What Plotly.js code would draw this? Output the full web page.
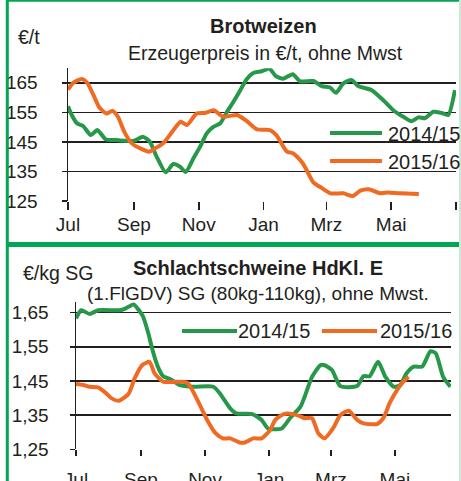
<!DOCTYPE html>
<html><head><meta charset="utf-8">
<script src="https://cdn.plot.ly/plotly-3.0.1.min.js"></script>
<style>html,body{margin:0;padding:0;background:#fff;}#c{width:461px;height:481px;}</style>
</head><body><div id="c"></div>
<script>
// ---- data (x = days since 1 July) ----
var monthTickDays = [0, 62, 123, 184, 243, 304, 365];
var monthTickText = ['Jul', 'Sep', 'Nov', 'Jan', 'Mrz', 'Mai', ''];
var seriesNames = ['2014/15', '2015/16'];

// Brotweizen (€/t)
var wheat1415Days = [0,3.5,8.7,14.4,21.4,27.6,35.7,45.8,61.4,70.8,77.1,83.4,91.9,99.1,105.4,110.7,117.9,124.2,130.5,136.7,143,149.3,155.5,161.8,168.1,174.3,182.2,189.4,195.7,202.5,211.4,218.3,230.8,238.7,246.5,252.1,259,266.9,273.1,285.7,296.6,306,315.4,323.3,329.5,335.8,343.6,351.5,357.7,364];
var wheat1415 = [157.1,154.1,151.2,150.3,147.3,149,145.8,145.6,145.3,146.7,145,140,134.7,137.5,136.6,134.8,139.4,143.3,147.9,150.1,151.2,155,158.5,162.3,166.2,168.3,168.9,169.8,167.2,166.4,167.9,165.5,165.6,163.9,163.4,161.6,164.8,165.9,163.9,162.5,159.1,155.7,153.5,152,153.3,153,155.2,154.8,154.1,162.5];
var wheat1516Days = [0,5,13,18,24,29,36,42,47,53,60,68,76,82,90,98,106,112,121,129,137,146,159,168,178,190,196,206,212,221,231,237,247,259,268,275,283,294,301,312,330];
var wheat1516 = [162.7,165,166.3,165,160.8,156.9,154.6,155.5,153.5,148.4,144.5,142.8,141.7,142.8,144.7,148.4,151.8,150.7,154.6,154.8,155.7,153.5,154.1,152.1,149.2,149,147.3,141.7,141.1,137.7,131.2,129.8,127.6,127.6,126.7,128.5,129,127.6,127.9,127.6,127.4];
var wheatTicks = [125, 135, 145, 155, 165];

// Schlachtschweine (€/kg SG)
var pig1415Days = [0,5,13,21,42,47,55,60,64,69,73,78,83,90,99,112,131,137,147,153,168,177,183,196,204,214,218,225,233,237,244,252,268,274,280,288,295,303,309,315,322,330,338,343,350,357];
var pig1415 = [1.633,1.657,1.646,1.657,1.657,1.662,1.674,1.657,1.638,1.589,1.54,1.492,1.464,1.455,1.438,1.433,1.433,1.414,1.37,1.355,1.353,1.336,1.311,1.311,1.341,1.375,1.404,1.462,1.496,1.496,1.482,1.435,1.435,1.464,1.464,1.506,1.462,1.433,1.438,1.472,1.492,1.492,1.537,1.531,1.462,1.433];
var pig1516Days = [0,7,13,21,28,34,41,50,56,63,70,75,83,101,106,111,118,125,133,140,147,156,161,169,177,185,190,198,207,215,218,225,231,237,245,252,260,268,274,287,293,299,306,312,317];
var pig1516 = [1.441,1.438,1.433,1.431,1.416,1.399,1.392,1.412,1.458,1.496,1.506,1.472,1.448,1.448,1.445,1.423,1.38,1.336,1.297,1.282,1.282,1.27,1.27,1.282,1.282,1.306,1.336,1.353,1.353,1.345,1.341,1.341,1.297,1.282,1.311,1.35,1.363,1.336,1.326,1.324,1.341,1.385,1.423,1.448,1.462];
var pigTicks = [1.25, 1.35, 1.45, 1.55, 1.65];

// ---- styling ----
var W = 461, H = 481;
var GREEN = '#27984a', ORANGE = '#ef6a23', FRAME = '#00a651', INK = '#231f20';
var FONT = 'Liberation Sans, Arial, sans-serif';
function px(x) { return x / W; }
function py(y) { return 1 - y / H; }

function trace(x, y, color, xa, ya, name) {
  return {x: x, y: y, type: 'scatter', mode: 'lines', name: name, xaxis: xa, yaxis: ya,
    line: {color: color, width: 4, shape: 'spline', smoothing: 0.6},
    cliponaxis: false, showlegend: false, hoverinfo: 'skip'};
}

var data = [
  trace(wheat1415Days, wheat1415, GREEN, 'x', 'y', seriesNames[0]),
  trace(wheat1516Days, wheat1516, ORANGE, 'x', 'y', seriesNames[1]),
  trace(pig1415Days, pig1415, GREEN, 'x2', 'y2', seriesNames[0]),
  trace(pig1516Days, pig1516, ORANGE, 'x2', 'y2', seriesNames[1])
];

function xAxis(domain, range, ticklen, standoff, anchor) {
  return {domain: domain, range: range, anchor: anchor, tickmode: 'array',
    tickvals: monthTickDays, ticktext: monthTickText, ticks: 'outside', ticklen: ticklen,
    tickwidth: 1.5, tickcolor: INK, showline: false, showgrid: false, zeroline: false,
    ticklabelstandoff: standoff, tickfont: {family: FONT, size: 19, color: INK}, fixedrange: true};
}
function yAxis(domain, range, ticks, fmt, standoff, anchor) {
  return {domain: domain, range: range, anchor: anchor, tickmode: 'array', tickvals: ticks,
    tickformat: fmt, ticks: 'outside', ticklen: 5, tickwidth: 1.5, tickcolor: INK,
    showline: true, linecolor: INK, linewidth: 1.5, showgrid: true, gridcolor: INK, gridwidth: 1.5,
    zeroline: false, ticklabelstandoff: standoff, tickfont: {family: FONT, size: 19, color: INK}, fixedrange: true};
}

function ann(text, x, y, size, bold, xanchor) {
  return {text: bold ? '<b>' + text + '</b>' : text, xref: 'paper', yref: 'paper', x: px(x), y: py(y),
    xanchor: xanchor || 'center', yanchor: 'middle', showarrow: false,
    font: {family: FONT, size: size, color: INK}};
}
function legLine(x0, x1, y, color) {
  return {type: 'line', xref: 'paper', yref: 'paper', x0: px(x0), x1: px(x1), y0: py(y), y1: py(y),
    line: {color: color, width: 4}};
}

var layout = {
  width: W, height: H, margin: {l: 0, r: 0, t: 0, b: 0},
  paper_bgcolor: '#fff', plot_bgcolor: 'rgba(0,0,0,0)', separators: ',.',
  showlegend: false, font: {family: FONT, color: INK},
  xaxis: xAxis([px(68), px(456)], [0, 365], 8, -2, 'y'),
  yaxis: yAxis([py(201), py(68.3)], [125, 169.9], wheatTicks, 'd', 20, 'x'),
  xaxis2: xAxis([px(76), px(451)], [0, 357.5], 6, 7, 'y2'),
  yaxis2: yAxis([py(449.3), py(301.7)], [1.25, 1.682], pigTicks, '.2f', 17, 'x2'),
  annotations: [
    ann('Brotweizen', 263, 26, 20, true),
    ann('Erzeugerpreis in €/t, ohne Mwst', 265, 53, 19.5, false),
    ann('€/t', 16, 37, 19.5, false, 'left'),
    ann('Schlachtschweine HdKl. E', 258, 268, 20, true),
    ann('(1.FlGDV) SG (80kg-110kg), ohne Mwst.', 258, 293, 19, false),
    ann('€/kg SG', 21, 273, 19.5, false, 'left'),
    ann(seriesNames[0], 386, 134, 20, false, 'left'),
    ann(seriesNames[1], 386, 162, 20, false, 'left'),
    ann(seriesNames[0], 236, 331, 20, false, 'left'),
    ann(seriesNames[1], 378, 331, 20, false, 'left')
  ],
  shapes: [
    legLine(330, 382, 133, GREEN),
    legLine(330, 382, 161, ORANGE),
    legLine(182, 237, 331, GREEN),
    legLine(322, 377, 331, ORANGE),
    {type: 'line', xref: 'paper', yref: 'paper', x0: px(7.3), x1: px(7.3), y0: 0, y1: 1, line: {color: FRAME, width: 3}},
    {type: 'line', xref: 'paper', yref: 'paper', x0: px(6), x1: 1, y0: py(0.8), y1: py(0.8), line: {color: FRAME, width: 2}},
    {type: 'line', xref: 'paper', yref: 'paper', x0: px(6), x1: 1, y0: py(244.5), y1: py(244.5), line: {color: FRAME, width: 5}},
    {type: 'line', xref: 'paper', yref: 'paper', x0: px(460), x1: px(460), y0: 0, y1: 1, line: {color: '#cfe9d6', width: 2}}
  ]
};

Plotly.newPlot('c', data, layout, {displayModeBar: false, staticPlot: true});
</script>
</body></html>
